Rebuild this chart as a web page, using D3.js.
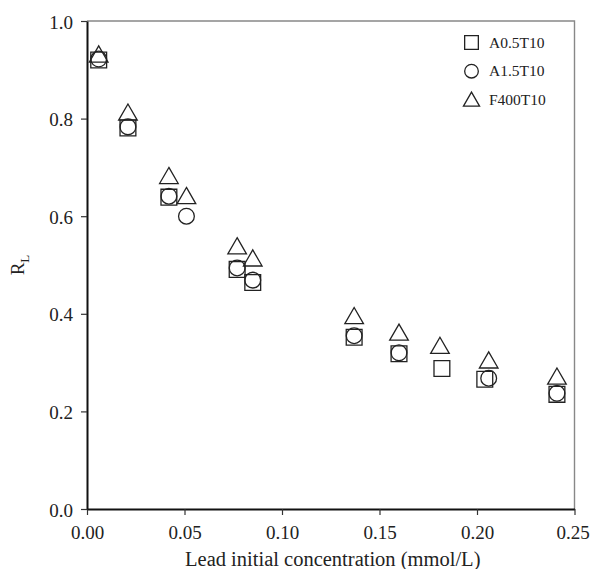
<!DOCTYPE html>
<html>
<head>
<meta charset="utf-8">
<script src="https://cdn.jsdelivr.net/npm/d3@7"></script>
<style>
  body { margin: 0; background: #fff; }
</style>
</head>
<body>
<svg id="chart" width="590" height="569"></svg>
<script>
// series names
var seriesNames = ["A0.5T10", "A1.5T10", "F400T10"];

// A0.5T10 (squares)
var sqX = [0.006, 0.021, 0.042, 0.077, 0.085, 0.137, 0.160, 0.182, 0.204, 0.241];
var sqY = [0.920, 0.781, 0.639, 0.491, 0.464, 0.352, 0.318, 0.288, 0.266, 0.235];

// A1.5T10 (circles)
var ciX = [0.006, 0.021, 0.042, 0.051, 0.077, 0.085, 0.137, 0.160, 0.206, 0.241];
var ciY = [0.922, 0.783, 0.641, 0.600, 0.494, 0.469, 0.355, 0.320, 0.268, 0.237];

// F400T10 (triangles)
var trX = [0.006, 0.021, 0.042, 0.051, 0.077, 0.085, 0.137, 0.160, 0.181, 0.206, 0.241];
var trY = [0.930, 0.811, 0.681, 0.640, 0.537, 0.512, 0.394, 0.360, 0.333, 0.303, 0.270];

var xTicks = [0.00, 0.05, 0.10, 0.15, 0.20, 0.25];
var yTicks = [0.0, 0.2, 0.4, 0.6, 0.8, 1.0];

var FONT = "Liberation Serif";

var svg = d3.select("#chart");
var margin = {top: 21, right: 15.5, bottom: 60, left: 87};
var width = 590 - margin.left - margin.right;
var height = 569 - margin.top - margin.bottom;

var x = d3.scaleLinear().domain([0, 0.25]).range([0, width]);
var y = d3.scaleLinear().domain([0, 1.0]).range([height, 0]);

var g = svg.append("g")
    .attr("transform", "translate(" + margin.left + "," + margin.top + ")");

// top and right frame
g.append("path")
    .attr("d", "M0,0H" + width + "V" + height)
    .attr("fill", "none")
    .attr("stroke", "#888")
    .attr("stroke-width", 1.4);

var xAxis = g.append("g")
    .attr("transform", "translate(0," + height + ")")
    .call(d3.axisBottom(x).tickValues(xTicks).tickFormat(d3.format(".2f"))
        .tickSize(6).tickPadding(6).tickSizeOuter(0));
var yAxis = g.append("g")
    .call(d3.axisLeft(y).tickValues(yTicks).tickFormat(d3.format(".1f"))
        .tickSize(6).tickPadding(8).tickSizeOuter(0));

[xAxis, yAxis].forEach(function(a) {
    a.attr("font-family", FONT).attr("font-size", 19);
    a.select(".domain").attr("stroke", "#111").attr("stroke-width", 2);
    a.selectAll(".tick line").attr("stroke", "#333").attr("stroke-width", 1.2);
    a.selectAll(".tick text").attr("fill", "#222");
});
xAxis.selectAll(".tick text").attr("dy", "0.95em");
xAxis.selectAll(".tick text").filter(function(d) { return d === 0.25; }).attr("dx", -2);
yAxis.selectAll(".tick text").attr("dy", "0.37em");

// axis titles
svg.append("text")
    .attr("x", margin.left + width / 2 + 2)
    .attr("y", 566)
    .attr("text-anchor", "middle")
    .attr("font-family", FONT)
    .attr("font-size", 20.5)
    .attr("fill", "#222")
    .text("Lead initial concentration (mmol/L)");

var yl = svg.append("text")
    .attr("transform", "translate(24,265) rotate(-90)")
    .attr("text-anchor", "middle")
    .attr("font-family", FONT)
    .attr("font-size", 19)
    .attr("fill", "#222");
yl.append("tspan").text("R");
yl.append("tspan").attr("dy", 5).attr("font-size", 13).text("L");

var sym = [d3.symbolSquare, d3.symbolCircle, d3.symbolTriangle];
var sizes = [250, 195, 150];

function drawSeries(xs, ys, k) {
    var pts = xs.map(function(d, i) { return [d, ys[i]]; });
    g.append("g").selectAll("path")
        .data(pts)
        .enter().append("path")
        .attr("d", d3.symbol().type(sym[k]).size(sizes[k]))
        .attr("transform", function(d) {
            var dy = k === 2 ? 1.5 : 0;
            return "translate(" + x(d[0]) + "," + (y(d[1]) + dy) + ")";
        })
        .attr("fill", "none")
        .attr("stroke", "#222")
        .attr("stroke-width", 1.3);
}
drawSeries(sqX, sqY, 0);
drawSeries(ciX, ciY, 1);
drawSeries(trX, trY, 2);

// legend
var legend = svg.append("g").attr("transform", "translate(471.5,42.5)");
seriesNames.forEach(function(name, i) {
    var row = legend.append("g").attr("transform", "translate(0," + (i * 28.7) + ")");
    row.append("path")
        .attr("d", d3.symbol().type(sym[i]).size(sizes[i] * 0.75))
        .attr("transform", i === 2 ? "translate(0,1.5)" : null)
        .attr("fill", "none")
        .attr("stroke", "#222")
        .attr("stroke-width", 1.3);
    row.append("text")
        .attr("x", 17.5)
        .attr("y", 5)
        .attr("font-family", FONT)
        .attr("font-size", 15.5)
        .attr("fill", "#222")
        .text(name);
});
</script>
</body>
</html>
